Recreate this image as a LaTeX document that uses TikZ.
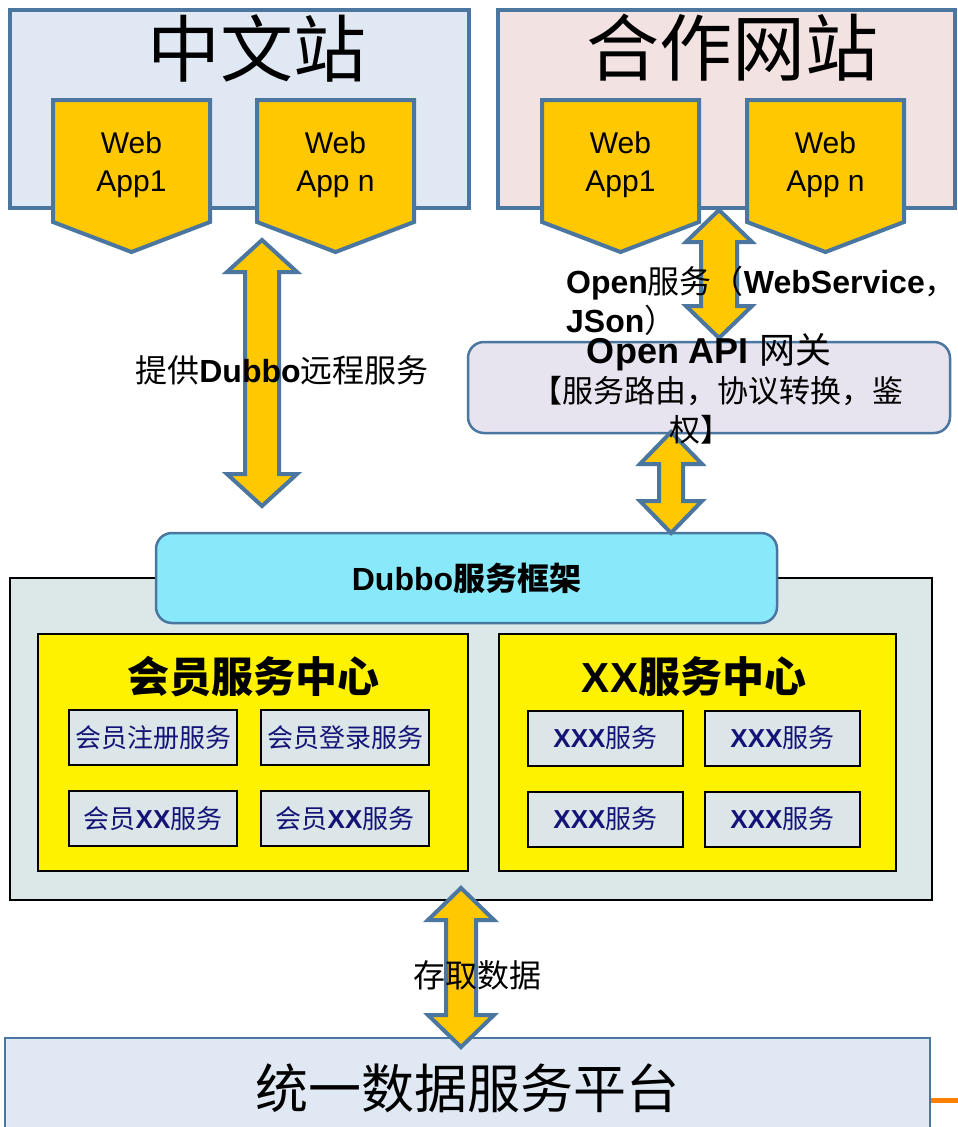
\documentclass[tikz,border=0pt]{standalone}
\usepackage{fontspec}
\setmainfont{Liberation Sans}
\newfontfamily\cjk{Noto Sans CJK SC}
\usepackage{tikz}
\usetikzlibrary{calc}
\usetikzlibrary{positioning}
\definecolor{edgeblue}{HTML}{4A76A0}
\definecolor{zhfill}{HTML}{E0E9F3}
\definecolor{hzfill}{HTML}{F2E2E1}
\definecolor{appgold}{HTML}{FFC800}
\definecolor{gwfill}{HTML}{E8E4EF}
\definecolor{dubbofill}{HTML}{88E9FB}
\definecolor{grayfill}{HTML}{DCE7E8}
\definecolor{subfill}{HTML}{DCE6E8}
\definecolor{navy}{HTML}{141478}
\newcommand{\zh}[1]{{\cjk #1}}
\newcommand{\webapp}[3]{\draw[appshape] (#2,100) -- ++(157,0) -- ++(0,122) -- ++(-78.5,30) -- ++(-78.5,-30) -- cycle;
  \node[apptext] (#1) at (#2+78.5,165) {#3}}
\newcommand{\bigarrow}[4]{\draw[blockarrow] (#1) -- ($(#1)+(#3,32)$) -- ($(#1)+(#4,32)$) -- ($(#2)+(#4,-32)$) -- ($(#2)+(#3,-32)$) -- (#2)
  -- ($(#2)+(-#3,-32)$) -- ($(#2)+(-#4,-32)$) -- ($(#1)+(-#4,32)$) -- ($(#1)+(-#3,32)$) -- cycle}

\begin{document}
\begin{tikzpicture}[
        x=1pt, y=-1pt,
        every node/.style={inner sep=0pt},
        site/.style={rectangle,draw=edgeblue,line width=4pt},
        titletext/.style={font=\fontsize{73}{80}\selectfont\cjk},
        appshape/.style={draw=edgeblue,fill=appgold,line width=4pt},
        apptext/.style={align=center,font=\fontsize{30}{38}\selectfont},
        blockarrow/.style={draw=edgeblue,fill=appgold,line width=4pt},
        linktext/.style={font=\fontsize{32}{38}\selectfont},
        roundbox/.style={rectangle,rounded corners=16pt,draw=edgeblue,line width=2.5pt},
        centre/.style={rectangle,draw=black,line width=2.5pt,fill=yellow,minimum height=237pt},
        centretitle/.style={font=\fontsize{42}{48}\selectfont\bfseries},
        service/.style={rectangle,draw=black,line width=2pt,fill=subfill,minimum height=55pt,
                        text=navy,font=\fontsize{26}{30}\selectfont}
      ]
      \useasboundingbox (0,0) rectangle (958,1127);
      \clip (0,0) rectangle (958,1127);
      \fill[white] (0,0) rectangle (958,1127);

      \node[site,fill=zhfill,minimum width=459pt,minimum height=198pt] (zhsite) at (239.5,109) {};
      \node[site,fill=hzfill,minimum width=457pt,minimum height=198pt] (hzsite) at (726.5,109) {};
      \node[titletext] (zhtitle) at (257,48) {中文站};
      \node[titletext] (hztitle) at (732,48) {合作网站};
      \webapp{zhapp1}{53}{Web\\App1};
      \webapp{zhappn}{257}{Web\\App n};
      \webapp{hzapp1}{542}{Web\\App1};
      \webapp{hzappn}{747}{Web\\App n};

      \node[roundbox,fill=gwfill,minimum width=482pt,minimum height=91pt] (gateway) at (709,387.5) {};

      \node[rectangle,draw=black,line width=2pt,fill=grayfill,minimum width=922pt,minimum height=322pt] (platform) at (471,739) {};
      \node[roundbox,fill=dubbofill,minimum width=621pt,minimum height=90pt,font=\fontsize{32}{38}\selectfont] (dubbo) at (466.5,578) {\textbf{Dubbo}\zh{\bfseries 服务框架}};
      \node[centre,minimum width=430pt] (member) at (253,752.5) {};
      \node[centre,minimum width=397pt] (xxcentre) at (697.5,752.5) {};
      \node[centretitle] (membertitle) at (253,677) {\zh{会员服务中心}};
      \node[centretitle] (xxtitle) at (694,677) {XX\zh{服务中心}};
      \node[service,minimum width=168pt] (register) at (153,737.5) {\zh{会员注册服务}};
      \node[service,minimum width=168pt] (login) at (345,737.5) {\zh{会员登录服务}};
      \node[service,minimum width=168pt] (memberxx1) at (153,818.5) {\zh{会员}\textbf{XX}\zh{服务}};
      \node[service,minimum width=168pt] (memberxx2) at (345,818.5) {\zh{会员}\textbf{XX}\zh{服务}};
      \node[service,minimum width=155pt] (xxx1) at (605.5,738) {\textbf{XXX}\zh{服务}};
      \node[service,minimum width=155pt] (xxx2) at (782.5,738) {\textbf{XXX}\zh{服务}};
      \node[service,minimum width=155pt] (xxx3) at (605.5,819) {\textbf{XXX}\zh{服务}};
      \node[service,minimum width=155pt] (xxx4) at (782.5,819) {\textbf{XXX}\zh{服务}};

      \node[site,line width=2.5pt,fill=zhfill,minimum width=925pt,minimum height=100pt,font=\fontsize{53}{60}\selectfont\cjk] (datahub) at (467.5,1088) {统一数据服务平台};
      \coordinate (stubend) at (958,1100);
      \draw[orange,line width=5pt] (datahub.east |- stubend) -- (stubend);

      \coordinate (rpctop) at (262,240);
      \coordinate (rpcbot) at (262,506);
      \coordinate (opentop) at (719,210);
      \coordinate (openbot) at (719,338);
      \coordinate (gwtop) at (671,432);
      \coordinate (gwbot) at (671,533);
      \coordinate (datatop) at (461,888);
      \coordinate (databot) at (461,1047);
      \bigarrow{rpctop}{rpcbot}{35}{17};
      \bigarrow{opentop}{openbot}{33}{18};
      \bigarrow{gwtop}{gwbot}{31}{12};
      \bigarrow{datatop}{databot}{33}{15};

      \node[linktext] (rpclabel) at (282,370) {\zh{提供}\textbf{Dubbo}\zh{远程服务}};
      \node[linktext,anchor=west] (openlabel) at (566,283) {\textbf{Open}\zh{服务（}\textbf{WebService}\zh{，}};
      \node[linktext,anchor=west] (openlabel2) at (566,320) {\textbf{JSon}\zh{）}};
      \node[font=\fontsize{36}{42}\selectfont] (gwname) at (709,352) {\textbf{Open API} \zh{网关}};
      \node[font=\fontsize{31}{36}\selectfont\cjk] (gwrole) at (717,391) {【服务路由，协议转换，鉴};
      \node[font=\fontsize{31}{36}\selectfont\cjk] (gwrole2) at (700,430) {权】};
      \node[linktext] (datalabel) at (477,975) {\zh{存取数据}};
    \end{tikzpicture}
\end{document}
